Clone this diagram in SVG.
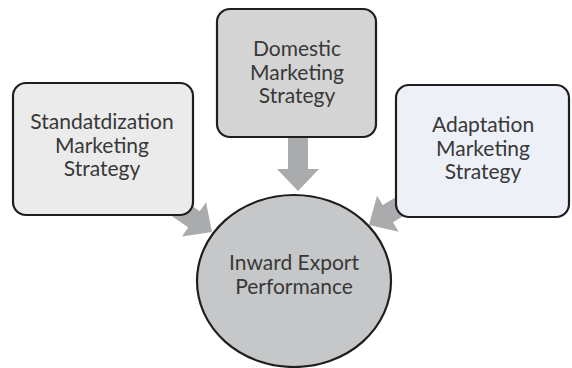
<svg xmlns="http://www.w3.org/2000/svg" width="572" height="368" viewBox="0 0 572 368">
  <style>
    .box { stroke: #1e1e1e; stroke-width: 2.2; }
    .lbl { font-family: Lato, "Liberation Sans", sans-serif; font-size: 21px; fill: #383838; text-anchor: middle; }
    .arrow { fill: #a9abad; }
  </style>
  <defs>
    <!-- block arrow pointing along +x, tip at origin -->
    <polygon id="blockArrow" points="-64,-10 -22,-10 -22,-21 0,0 -22,21 -22,10 -64,10"/>
  </defs>
  <rect width="572" height="368" fill="#ffffff"/>

  <g id="connectors">
    <use href="#blockArrow" class="arrow" transform="translate(212,232) rotate(35)"/>
    <use href="#blockArrow" class="arrow" transform="translate(298,191) rotate(90)"/>
    <use href="#blockArrow" class="arrow" transform="translate(369,225) rotate(149)"/>
  </g>

  <g id="standardization">
    <rect class="box" x="13" y="83" width="180" height="132" rx="13" fill="#ebebeb"/>
    <text class="lbl" x="102" y="129">Standatdization</text>
    <text class="lbl" x="102" y="152.5">Marketing</text>
    <text class="lbl" x="102" y="176">Strategy</text>
  </g>

  <g id="domestic">
    <rect class="box" x="217" y="9" width="159" height="128" rx="13" fill="#d4d4d4"/>
    <text class="lbl" x="297" y="56">Domestic</text>
    <text class="lbl" x="297" y="79.5">Marketing</text>
    <text class="lbl" x="297" y="103">Strategy</text>
  </g>

  <g id="adaptation">
    <rect class="box" x="396" y="85" width="173" height="132" rx="13" fill="#eef0f8"/>
    <text class="lbl" x="483" y="132">Adaptation</text>
    <text class="lbl" x="483" y="155.5">Marketing</text>
    <text class="lbl" x="483" y="179">Strategy</text>
  </g>

  <g id="performance">
    <ellipse class="box" cx="294" cy="281" rx="97" ry="86" fill="#c5c7c9"/>
    <text class="lbl" x="294" y="270">Inward Export</text>
    <text class="lbl" x="294" y="294">Performance</text>
  </g>
</svg>
